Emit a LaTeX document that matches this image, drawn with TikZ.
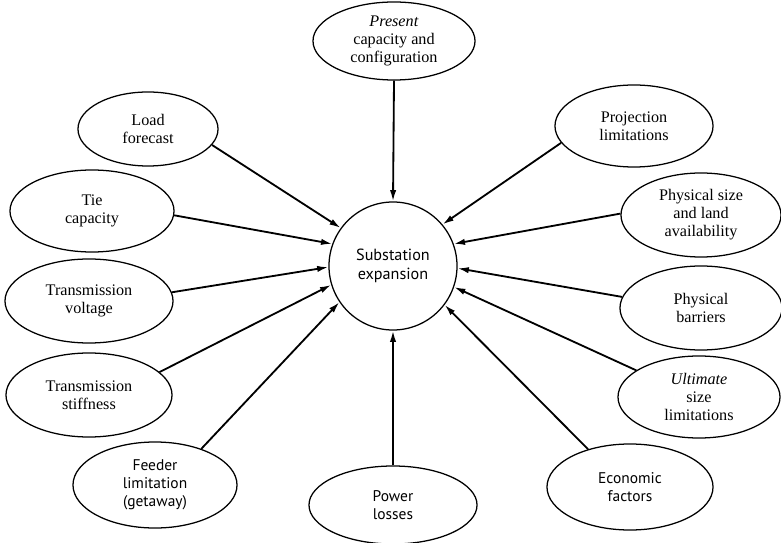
\documentclass[tikz,border=0pt]{standalone}
\usepackage{fontspec}
\setmainfont{Liberation Serif}
\newfontfamily\humsans{PT Sans}
\usetikzlibrary{arrows.meta,shapes.geometric}
\begin{document}
\begin{tikzpicture}[x=0.025cm,y=-0.025cm,
  factor/.style 2 args={ellipse, draw, line width=0.9pt, inner sep=0pt,
    minimum width=#1cm, minimum height=#2cm, align=center,
    font=\fontsize{11.5}{12.8}\selectfont},
  sanslabel/.style={font=\humsans\fontsize{11}{12.8}\selectfont},
  hub/.style={circle, draw, line width=0.9pt, minimum size=3.2cm,
    inner sep=0pt, align=center, font=\humsans\fontsize{11.5}{13}\selectfont},
  feed/.style={line width=1.3pt, -{Latex[length=8pt,width=4.5pt]}}
]
\useasboundingbox (0,0) rectangle (781,543);

% central hub
\node[hub] (c) at (393,266) {Substation\\expansion};

% surrounding factors
\node[factor={4.05}{1.95}] (pc) at (394,41) {\textit{Present}\\capacity and\\configuration};
\node[factor={3.5}{1.85}]  (lf) at (148,129) {Load\\forecast};
\node[factor={4.1}{2.05}]  (tc) at (92,211)  {Tie\\capacity};
\node[factor={4.2}{2.1}]   (tv) at (89,301)  {Transmission\\voltage};
\node[factor={4.15}{2.1}]  (ts) at (89,395)  {Transmission\\stiffness};
\node[factor={4.1}{2.15},sanslabel] (fl) at (155,485) {Feeder\\limitation\\(getaway)};
\node[factor={4.2}{1.95},sanslabel] (pl) at (393,505) {Power\\losses};
\node[factor={4.15}{2.15},sanslabel] (ef) at (630,487) {Economic\\factors};
\node[factor={4.05}{2.05}] (us) at (699,397) {\textit{Ultimate}\\size\\limitations};
\node[factor={4.05}{2.1}]  (pb) at (701,308) {Physical\\barriers};
\node[factor={4.0}{2.1}]   (ps) at (701,215) {Physical size\\and land\\availability};
\node[factor={3.95}{2.05}] (pj) at (634,126) {Projection\\limitations};

% influences feeding the hub
\draw[feed] (pc.south) -- (c.north);
\draw[feed] (lf.-14)  -- (c.144);
\draw[feed] (tc.-3)   -- (c.160);
\draw[feed] (tv.6)    -- (c.181);
\draw[feed] (ts.18)   -- (c.197);
\draw[feed] (fl.38)   -- (c.214);
\draw[feed] (pl.north) -- (c.south);
\draw[feed] (ef.138)  -- (c.-37);
\draw[feed] (us.157)  -- (c.-19);
\draw[feed] (pb.172)  -- (c.-2);
\draw[feed] (ps.179)  -- (c.20);
\draw[feed] (pj.193)  -- (c.40);
\end{tikzpicture}
\end{document}
